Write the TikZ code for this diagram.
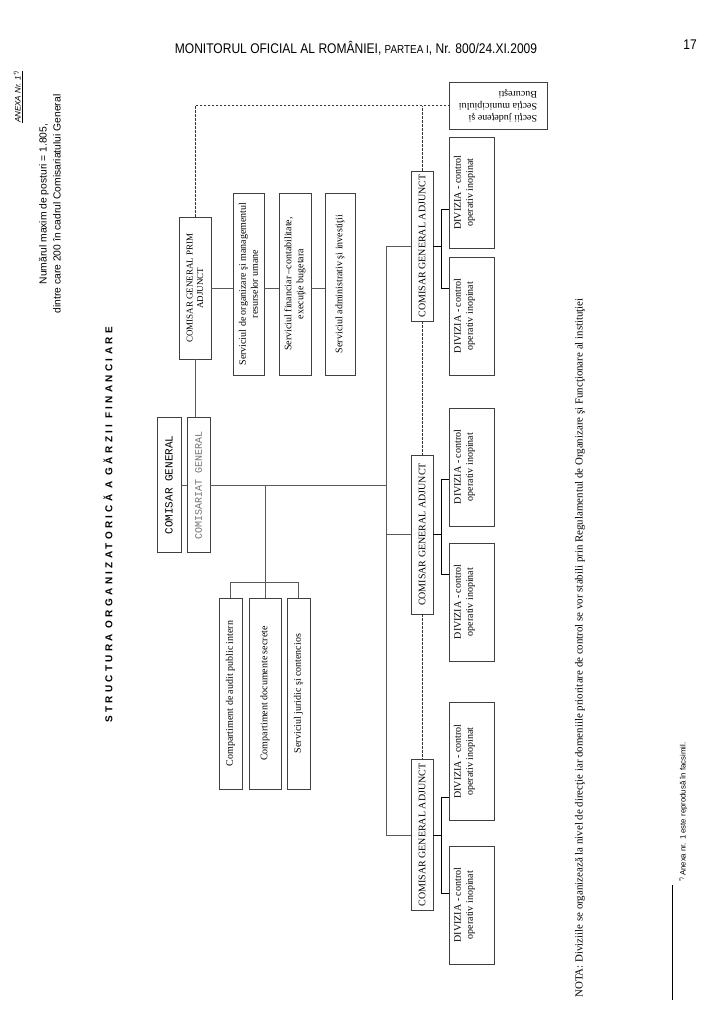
\documentclass[tikz,border=0pt]{standalone}
\usepackage{fontspec}
\setmainfont{Liberation Serif}
\newfontfamily\arialfont{Liberation Sans}
\newfontfamily\narrowfont[FakeStretch=0.86]{Liberation Sans}
\newfontfamily\titlefont[LetterSpace=33]{Liberation Sans}
\newfontfamily\courfont{Liberation Mono}

\begin{document}
\begin{tikzpicture}[
  x = 1pt, y = -1pt,
  every node/.style = {font=\fontsize{10}{12}\selectfont, inner sep=1pt},
  frame/.style = {rectangle, draw=black!75, line width=0.9pt, fill=white},
  box/.style = {frame, rotate=90, align=center},
  sjbox/.style = {frame, rotate=180, align=left, minimum width=98pt,
    minimum height=47pt},
  monobox/.style = {box, font=\fontsize{11}{12}\courfont,
    minimum width=135pt},
  cgabox/.style = {box, minimum height=22pt},
  divbox/.style = {box, minimum width=118pt, minimum height=45pt,
    text depth=16pt},
  servbox/.style = {box, minimum width=182pt},
  compbox/.style = {box, minimum width=191pt},
  conn/.style = {draw=black!65, line width=0.9pt},
  dashln/.style = {draw=black!80, line width=0.7pt,
    dash pattern=on 2.5pt off 1.5pt},
  vtext/.style = {rotate=90, inner sep=0pt}
]
\useasboundingbox[fill=white] (0,0) rectangle (716,1012);

% page header
\node[font=\fontsize{14}{15}\narrowfont] (hdr) at (356,48)
  {MONITORUL OFICIAL AL ROMÂNIEI, {\fontsize{11.5}{12}\selectfont PARTEA I}, Nr. 800/24.XI.2009};
\node[font=\fontsize{14}{15}\narrowfont] (pg) at (690,45) {17};

% margin texts
\node[vtext, font=\fontsize{8}{9}\arialfont\itshape] (anexa) at (18,97)
  {\underline{ANEXA Nr. 1\textsuperscript{*)}}};
\node[vtext, align=center, font=\fontsize{10.3}{14}\arialfont] (posturi) at (50,204)
  {Numărul maxim de posturi = 1.805,\\dintre care 200 în cadrul Comisariatului General};
\node[vtext, font=\fontsize{10}{12}\titlefont\bfseries] (title) at (108,525)
  {STRUCTURA ORGANIZATORICĂ A GĂRZII FINANCIARE};

% conducere
\node[monobox, minimum height=24pt] (cg) at (169,485) {COMISAR GENERAL};
\node[monobox, text=black!55, font=\fontsize{10}{12}\courfont,
  minimum height=23pt] (cgt) at (198.5,485) {COMISARIAT GENERAL};
\node[box, font=\fontsize{9}{10.5}\selectfont, minimum width=142pt,
  minimum height=32pt] (cgpa) at (195,288) {COMISAR GENERAL PRIM\\ADJUNCT};

% servicii prim adjunct
\node[servbox, minimum height=31pt] (s1) at (248.5,284)
  {Serviciul de organizare şi managementul\\resurselor umane};
\node[servbox, minimum height=32pt] (s2) at (295,284)
  {Serviciul financiar –contabilitate,\\execuţie bugetara};
\node[servbox, minimum height=30pt] (s3) at (340,284)
  {Serviciul administrativ şi investiţii};

% compartimente
\node[compbox, minimum height=23pt] (c1) at (230.5,693.5)
  {Compartiment de audit public intern};
\node[compbox, minimum height=32pt] (c2) at (265,693.5)
  {Compartiment documente secrete};
\node[compbox, minimum height=23pt] (c3) at (298.5,693.5)
  {Serviciul juridic şi contencios};

% comisari adjuncti
\node[cgabox, minimum width=150pt] (cga1) at (422,246) {COMISAR GENERAL ADJUNCT};
\node[cgabox, minimum width=159pt] (cga2) at (422,534.5) {COMISAR GENERAL ADJUNCT};
\node[cgabox, minimum width=151pt] (cga3) at (422,835) {COMISAR GENERAL ADJUNCT};

% divizii
\node[divbox, minimum width=111pt] (d1a) at (471.5,192.5) {DIVIZIA - control\\operativ inopinat};
\node[divbox] (d1b) at (471.5,316) {DIVIZIA - control\\operativ inopinat};
\node[divbox] (d2a) at (471.5,467) {DIVIZIA - control\\operativ inopinat};
\node[divbox] (d2b) at (471.5,602) {DIVIZIA - control\\operativ inopinat};
\node[divbox] (d3a) at (471.5,761.5) {DIVIZIA - control\\operativ inopinat};
\node[divbox] (d3b) at (471.5,905) {DIVIZIA - control\\operativ inopinat};

\node[sjbox] (sj) at (498,105.5)
  {Secţii judeţene şi\\Secţia municipiului\\Bucureşti};

% note and footnote
\node[vtext, font=\fontsize{10.9}{12}\selectfont] (nota) at (580,648)
  {NOTA: Diviziile se organizează la nivel de direcţie iar domeniile prioritare de control se vor stabili prin Regulamentul de Organizare şi Funcţionare al instituţiei};
\node[vtext, font=\fontsize{7.8}{9}\arialfont] (fn) at (683,812)
  {\textsuperscript{*)}\,Anexa nr. 1 este reprodusă în facsimil.};
\draw[line width=0.6pt] (672,885) -- (672,1000);

% legaturi
\coordinate (spine) at (386,485);
\coordinate (b1a) at (441,209);
\coordinate (b1b) at (441,288);
\coordinate (b2a) at (441,479);
\coordinate (b2b) at (441,574);
\coordinate (b3a) at (441,797);
\coordinate (b3b) at (441,893);

\draw[conn] (cg.south) -- (cgt.north);
\draw[conn] (cgpa.west) -- (cgpa.west |- cgt.east);
\draw[conn] (cgpa.south) -- (cgpa.south -| s1.north);
\draw[conn] (cgpa.south -| s1.south) -- (cgpa.south -| s2.north);
\draw[conn] (cgpa.south -| s2.south) -- (cgpa.south -| s3.north);
\draw[conn] (cgt.south) -- (spine);
\draw[conn] (c2.east |- spine) -- (c2.east);
\draw[conn] (c1.east) -- ++(0,-15) -| (c3.east);
\draw[conn] (spine |- cga1.north) -- (spine |- cga3.north);
\foreach \i in {1,2,3} {
  \draw[conn] (spine |- cga\i.north) -- (cga\i.north);
  \draw[line width=0.9pt] (cga\i.south) -- (cga\i.south -| b\i a);
  \draw[line width=0.9pt] (b\i a) -- (b\i b);
  \draw[line width=0.9pt] (b\i a) -- (b\i a -| d\i a.north);
  \draw[line width=0.9pt] (b\i b) -- (b\i b -| d\i b.north);
}

% linii punctate
\draw[dashln] (cgpa.east) |- (sj.east);
\draw[dashln] (cga1.east) -- (cga1.east |- sj.east);
\draw[dashln] (cga1.west) -- (cga2.east);
\draw[dashln] (cga2.west) -- (cga3.east);
\end{tikzpicture}
\end{document}
